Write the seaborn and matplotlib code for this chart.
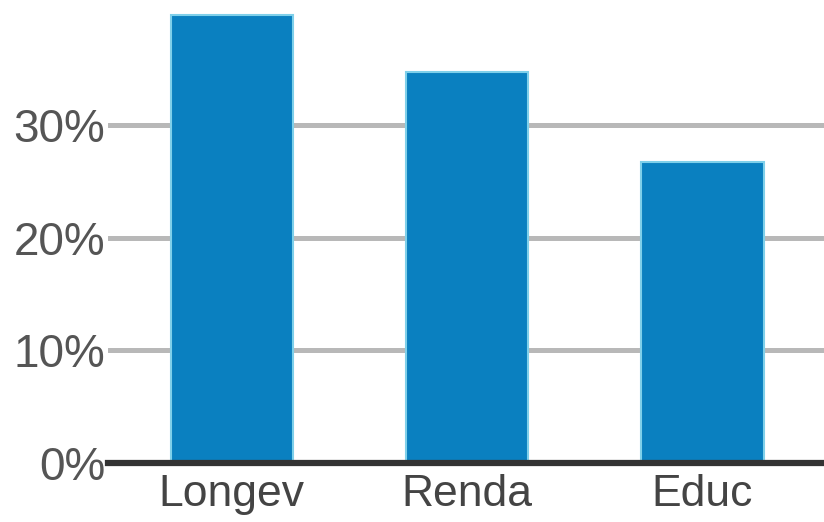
import matplotlib
matplotlib.use("Agg")
import matplotlib.pyplot as plt
import seaborn as sns
import pandas as pd
from matplotlib.ticker import FuncFormatter

categories = ["Longev", "Renda", "Educ"]
values = [39.8, 34.7, 26.7]
yticks = [0, 10, 20, 30]

sns.set_theme(style="white")
plt.rcParams['font.family'] = ['Liberation Sans', 'DejaVu Sans']

df = pd.DataFrame({"cat": categories, "val": values})

fig = plt.figure(figsize=(8.24, 5.22), dpi=100)
ax = fig.add_axes([0.131, 0.113, 0.869, 0.887])

sns.barplot(data=df, x="cat", y="val", color="#0a80c0", saturation=1,
            width=0.52, ax=ax, edgecolor="#7fd0ea", linewidth=1.5, zorder=3)

ax.set_xlim(-0.526, 2.517)
ax.set_ylim(0, 41.1)
ax.set_yticks(yticks)
ax.yaxis.set_major_formatter(FuncFormatter(lambda v, p: f"{v:.0f}%"))
ax.yaxis.grid(True, color="#b8b8b8", linewidth=3.6, zorder=0)
ax.set_axisbelow(True)
ax.set_xlabel("")
ax.set_ylabel("")

for s in ["top", "right", "left"]:
    ax.spines[s].set_visible(False)
ax.spines["bottom"].set_color("#333333")
ax.spines["bottom"].set_linewidth(4.5)
ax.spines["bottom"].set_zorder(4)

ax.tick_params(axis="y", length=0, pad=2, labelsize=33, labelcolor="#555555")
ax.tick_params(axis="x", length=0, pad=8, labelsize=32, labelcolor="#444444")

fig.savefig("out.png", dpi=100)
